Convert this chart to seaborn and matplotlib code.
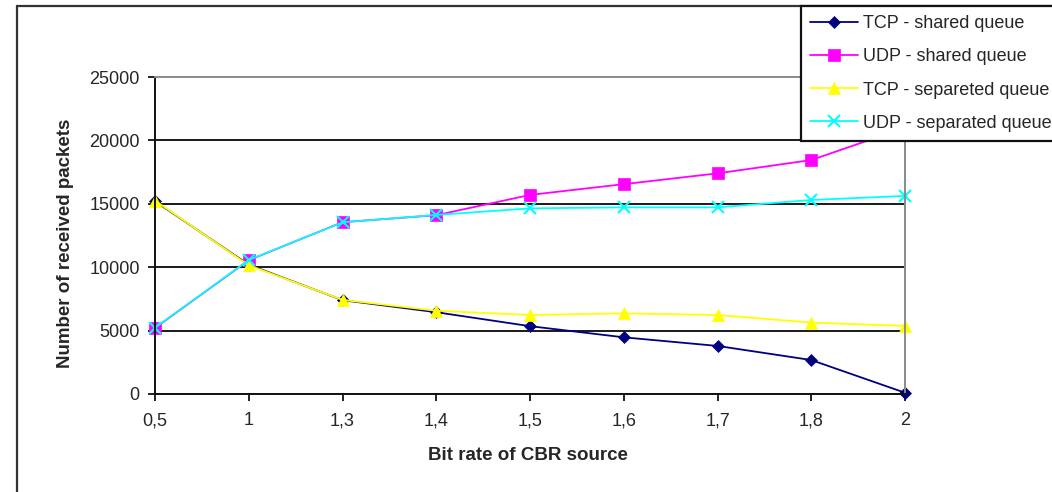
import matplotlib
matplotlib.use("Agg")
import matplotlib.pyplot as plt
from matplotlib.lines import Line2D
import seaborn as sns
import pandas as pd

# ---- data ----
bit_rates = ['0,5', '1', '1,3', '1,4', '1,5', '1,6', '1,7', '1,8', '2']
tcp_shared = [15200, 10200, 7400, 6450, 5350, 4470, 3790, 2680, 100]
udp_shared = [5200, 10550, 13550, 14100, 15700, 16550, 17400, 18450, 21000]
tcp_separated = [15250, 10150, 7420, 6570, 6230, 6360, 6230, 5630, 5370]
udp_separated = [5230, 10570, 13540, 14120, 14640, 14720, 14720, 15300, 15620]
series_names = ['TCP - shared queue', 'UDP - shared queue',
                'TCP - separeted queue', 'UDP - separated queue']
y_ticks = [0, 5000, 10000, 15000, 20000, 25000]

colors = ['#000080', '#FF00FF', '#FFFF00', '#00FFFF']
markers = ['D', 's', '^', 'x']
msizes = [6, 8, 9, 9]

rows = []
for name, vals in zip(series_names, [tcp_shared, udp_shared, tcp_separated, udp_separated]):
    for r, v in zip(bit_rates, vals):
        rows.append({'rate': r, 'packets': v, 'series': name})
df = pd.DataFrame(rows)

sns.set_style("white")
plt.rcParams['font.family'] = ['Liberation Sans', 'DejaVu Sans']

fig = plt.figure(figsize=(10.52, 4.92), dpi=100)
ax = fig.add_axes([155 / 1052, 1 - 394 / 492, 750 / 1052, 317 / 492])

sns.pointplot(data=df, x='rate', y='packets', hue='series', order=bit_rates,
              hue_order=series_names, palette=colors, markers=markers,
              linestyles='-', errorbar=None, dodge=False, ax=ax, legend=False)

handles = []
for line, c, m, ms in zip(ax.lines, colors, markers, msizes):
    line.set_color(c)
    line.set_marker(m)
    line.set_markersize(ms)
    line.set_markerfacecolor(c)
    line.set_markeredgecolor(c)
    line.set_markeredgewidth(1.5 if m == 'x' else 0.5)
    line.set_linewidth(1.3)
    line.set_clip_on(False)
    handles.append(Line2D([], [], color=c, marker=m, markersize=ms,
                          markerfacecolor=c, markeredgecolor=c,
                          markeredgewidth=1.5 if m == 'x' else 0.5, linewidth=1.3))

ax.set_xlim(0, len(bit_rates) - 1)
ax.set_ylim(0, 25000)
ax.set_yticks(y_ticks)
ax.set_yticklabels([str(t) for t in y_ticks])

ax.grid(axis='y', color='#1a1a1a', linewidth=1.4)
ax.grid(axis='x', visible=False)
ax.set_axisbelow(True)
gl = ax.yaxis.get_gridlines()
gl[-1].set_visible(False)

for s in ['left', 'bottom']:
    ax.spines[s].set_color('#111111')
    ax.spines[s].set_linewidth(1.4)
for s in ['top', 'right']:
    ax.spines[s].set_color('#8a8a8a')
    ax.spines[s].set_linewidth(1.4)

ax.tick_params(axis='both', which='major', direction='out', length=5, width=1.3,
               color='#111111', labelsize=13, pad=6)
ax.tick_params(axis='y', left=True)
ax.tick_params(axis='x', bottom=True, pad=8)

ax.set_xlabel('Bit rate of CBR source', fontsize=13.5, fontweight='bold')
ax.set_ylabel('Number of received packets', fontsize=13.5, fontweight='bold')
ax.xaxis.set_label_coords((528 - 155) / 750, (394 - 447) / 317)
ax.yaxis.set_label_coords((74 - 155) / 750, (394 - 243) / 317)

# figure border (left and top edges visible)
fig.add_artist(Line2D([17 / 1052, 17 / 1052], [0, 1 - 6 / 492], transform=fig.transFigure,
                      color='#333333', linewidth=1.6))
fig.add_artist(Line2D([17 / 1052, 1], [1 - 6 / 492, 1 - 6 / 492], transform=fig.transFigure,
                      color='#333333', linewidth=1.6))

leg = fig.legend(handles, series_names, loc='upper left',
                 bbox_to_anchor=(801 / 1052, 1 - 6 / 492), fontsize=13,
                 frameon=True, fancybox=False, edgecolor='#111111', framealpha=1,
                 borderpad=0.5, labelspacing=0.9, handlelength=2.65,
                 handletextpad=0.28, borderaxespad=0)
leg.get_frame().set_linewidth(1.6)

fig.savefig('out.png', dpi=100)
